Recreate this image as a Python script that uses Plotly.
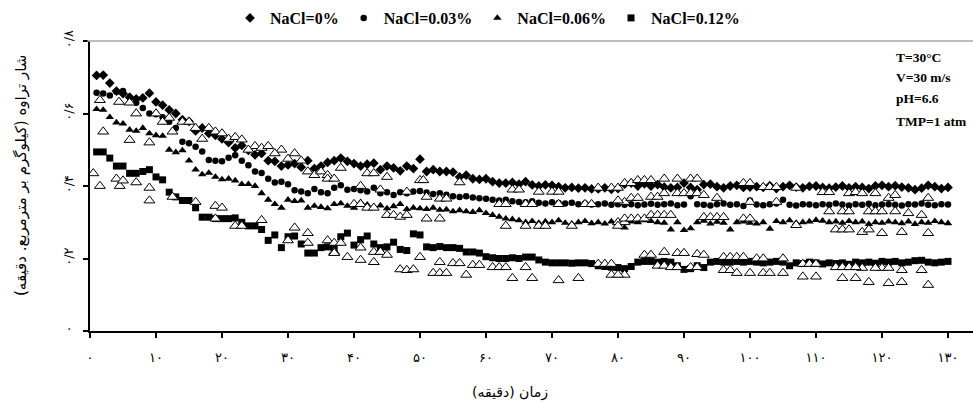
import plotly.graph_objects as go

# ---------------- data ----------------
time_min = list(range(1, 131))

nacl_0 = [
    0.705, 0.706, 0.684, 0.662, 0.655, 0.645, 0.640, 0.643, 0.656, 0.632,
    0.623, 0.610, 0.600, 0.583, 0.578, 0.552, 0.560, 0.545, 0.540, 0.530,
    0.520, 0.505, 0.512, 0.498, 0.486, 0.490, 0.470, 0.468, 0.455, 0.458,
    0.462, 0.452, 0.470, 0.448, 0.455, 0.465, 0.470, 0.477, 0.468, 0.462,
    0.455, 0.460, 0.463, 0.445, 0.455, 0.450, 0.442, 0.455, 0.448, 0.474,
    0.440, 0.445, 0.440, 0.440, 0.438, 0.425, 0.430, 0.420, 0.418, 0.420,
    0.412, 0.408, 0.408, 0.410, 0.405, 0.412, 0.403, 0.400, 0.403, 0.402,
    0.398, 0.395, 0.396, 0.394, 0.395, 0.392, 0.392, 0.395, 0.391, 0.393,
    0.405, 0.408, 0.400, 0.406, 0.400, 0.404, 0.397, 0.395, 0.396, 0.408,
    0.396, 0.390, 0.404, 0.405, 0.398, 0.395, 0.400, 0.402, 0.396, 0.397,
    0.398, 0.396, 0.401, 0.393, 0.398, 0.402, 0.397, 0.395, 0.399, 0.400,
    0.396, 0.394, 0.397, 0.400, 0.395, 0.398, 0.396, 0.393, 0.400, 0.402,
    0.398, 0.401, 0.397, 0.395, 0.390, 0.394, 0.402, 0.398, 0.393, 0.396,
]

nacl_003 = [
    0.657, 0.655, 0.650, 0.660, 0.662, 0.645, 0.630, 0.615, 0.600, 0.598,
    0.590, 0.577, 0.560, 0.522, 0.518, 0.508, 0.495, 0.472, 0.470, 0.468,
    0.478, 0.485, 0.470, 0.457, 0.440, 0.436, 0.420, 0.410, 0.412, 0.405,
    0.388, 0.385, 0.380, 0.392, 0.383, 0.380, 0.395, 0.402, 0.390, 0.392,
    0.388, 0.385, 0.395, 0.380, 0.383, 0.375, 0.383, 0.380, 0.385, 0.386,
    0.382, 0.378, 0.380, 0.376, 0.372, 0.370, 0.372, 0.368, 0.366, 0.365,
    0.362, 0.360, 0.362, 0.358, 0.356, 0.355, 0.358, 0.354, 0.352, 0.355,
    0.353, 0.352, 0.354, 0.350, 0.352, 0.349, 0.350, 0.352, 0.348, 0.350,
    0.348, 0.350, 0.347, 0.349, 0.351, 0.348, 0.350, 0.352, 0.347, 0.349,
    0.372, 0.350, 0.348, 0.346, 0.350, 0.352, 0.348, 0.350, 0.345, 0.360,
    0.349, 0.347, 0.350, 0.352, 0.362, 0.348, 0.346, 0.350, 0.349, 0.347,
    0.350, 0.348, 0.352, 0.349, 0.346, 0.350, 0.348, 0.351, 0.347, 0.349,
    0.350, 0.348, 0.346, 0.350, 0.349, 0.352, 0.348, 0.347, 0.350, 0.349,
]

nacl_006 = [
    0.612, 0.610, 0.590, 0.575, 0.572, 0.555, 0.552, 0.560, 0.545, 0.540,
    0.538, 0.500, 0.493, 0.498, 0.470, 0.445, 0.432, 0.436, 0.425, 0.418,
    0.420, 0.415, 0.405, 0.405, 0.400, 0.380, 0.362, 0.350, 0.340, 0.362,
    0.358, 0.360, 0.340, 0.345, 0.342, 0.338, 0.350, 0.352, 0.345, 0.340,
    0.355, 0.348, 0.342, 0.346, 0.338, 0.344, 0.350, 0.336, 0.340, 0.338,
    0.336, 0.340, 0.334, 0.335, 0.330, 0.333, 0.330, 0.328, 0.333, 0.325,
    0.320, 0.315, 0.310, 0.308, 0.305, 0.300, 0.303, 0.298, 0.302, 0.300,
    0.305, 0.298, 0.296, 0.300, 0.303, 0.297, 0.300, 0.296, 0.302, 0.298,
    0.285, 0.302, 0.300, 0.305, 0.303, 0.300, 0.298, 0.280, 0.300, 0.278,
    0.283, 0.300, 0.304, 0.296, 0.301, 0.298, 0.280, 0.300, 0.302, 0.298,
    0.296, 0.300, 0.282, 0.303, 0.300, 0.305, 0.298, 0.300, 0.302, 0.306,
    0.304, 0.300, 0.302, 0.298, 0.303, 0.300, 0.302, 0.295, 0.300, 0.298,
    0.302, 0.300, 0.297, 0.302, 0.295, 0.300, 0.298, 0.303, 0.300, 0.297,
]

nacl_012 = [
    0.494, 0.494, 0.477, 0.455, 0.455, 0.435, 0.435, 0.440, 0.445, 0.425,
    0.417, 0.383, 0.370, 0.360, 0.360, 0.340, 0.314, 0.314, 0.310, 0.310,
    0.310, 0.312, 0.300, 0.290, 0.290, 0.280, 0.250, 0.265, 0.230, 0.260,
    0.262, 0.240, 0.215, 0.215, 0.230, 0.232, 0.230, 0.260, 0.270, 0.237,
    0.252, 0.262, 0.240, 0.230, 0.232, 0.245, 0.225, 0.222, 0.268, 0.265,
    0.232, 0.230, 0.233, 0.230, 0.230, 0.228, 0.218, 0.218, 0.215, 0.205,
    0.202, 0.200, 0.200, 0.202, 0.200, 0.204, 0.204, 0.196, 0.190, 0.188,
    0.188, 0.188, 0.187, 0.188, 0.188, 0.186, 0.180, 0.178, 0.176, 0.175,
    0.172, 0.178, 0.190, 0.192, 0.192, 0.190, 0.192, 0.190, 0.180, 0.170,
    0.172, 0.180, 0.175, 0.190, 0.192, 0.190, 0.190, 0.192, 0.190, 0.192,
    0.190, 0.188, 0.190, 0.192, 0.190, 0.180, 0.188, 0.186, 0.190, 0.188,
    0.185, 0.188, 0.186, 0.188, 0.184, 0.190, 0.188, 0.190, 0.187, 0.192,
    0.190, 0.192, 0.188, 0.190, 0.194, 0.195, 0.190, 0.188, 0.190, 0.192,
]

# open (white) triangles, not in the legend
open_t = [
    1.5, 4.4, 2, 6, 9, 10, 12, 14, 15, 18, 19, 21, 22, 23, 25, 26, 27, 29, 31, 33, 34, 35, 36,
    6, 7, 11, 12.5, 16, 17, 20, 24, 28, 30, 32,
    0.5, 1.5, 4, 4.5, 5, 7, 9, 9, 12.5, 16, 19, 20, 19, 22, 23, 26, 30, 31, 33, 33, 36, 37,
    36, 37, 38, 41, 42, 43, 44, 45, 48, 50, 50.5, 51, 53, 54, 56, 64, 65, 68, 70, 71, 77, 79, 80, 81,
    40, 41, 42, 43, 45, 46, 47, 48, 51, 53, 62, 63, 63, 66, 67, 66, 68, 69, 71, 73, 75, 76, 80, 81,
    37, 37, 38, 39, 41, 41, 43, 44, 43, 45, 47, 48, 49, 50, 52, 53, 54, 53, 55, 56, 57, 58, 59,
    61, 62, 63, 64, 66, 67, 71, 74, 77, 78, 79, 79, 81,
    81, 82, 83, 84, 85, 87, 89, 91, 92, 80, 82, 83, 85, 86, 87, 89, 90, 91, 92, 93, 95, 99, 100,
    100, 102, 103, 104, 104, 107, 111, 112, 112, 114, 115, 115, 116, 117, 118, 119, 119, 120, 121,
    122, 122, 124, 126, 127,
    80, 81, 82, 83, 84, 85, 86, 87, 88, 93, 94, 95, 96, 99, 100, 107, 113, 114, 115, 117, 118, 120,
    123, 127,
    80, 84, 85, 87, 89, 90, 92, 93, 86, 87, 88, 89, 91, 92, 96, 97, 98, 99, 101, 102, 105, 96, 97,
    98, 100, 102, 103, 105, 108, 109, 110, 108, 110, 113, 114, 115, 117, 118, 120, 121, 116, 119,
    121, 123, 126, 114, 116, 123, 127,
]
open_v = [
    0.637, 0.632, 0.550, 0.527, 0.520, 0.600, 0.588, 0.577, 0.577, 0.560, 0.550, 0.530, 0.535,
    0.528, 0.510, 0.505, 0.510, 0.500, 0.490, 0.440, 0.430, 0.440, 0.430,
    0.630, 0.600, 0.577, 0.550, 0.560, 0.530, 0.545, 0.500, 0.490, 0.475, 0.470,
    0.435, 0.400, 0.420, 0.400, 0.415, 0.410, 0.395, 0.360, 0.370, 0.356, 0.345, 0.340, 0.310,
    0.290, 0.290, 0.306, 0.250, 0.285, 0.270, 0.243, 0.250, 0.218,
    0.420, 0.420, 0.450, 0.400, 0.435, 0.435, 0.390, 0.425, 0.384, 0.416, 0.416, 0.370, 0.365,
    0.365, 0.410, 0.390, 0.390, 0.384, 0.384, 0.384, 0.395, 0.395, 0.395, 0.356,
    0.350, 0.350, 0.340, 0.340, 0.320, 0.320, 0.315, 0.320, 0.310, 0.310, 0.350, 0.350, 0.290,
    0.350, 0.350, 0.290, 0.290, 0.290, 0.350, 0.290, 0.350, 0.350, 0.300, 0.300,
    0.243, 0.215, 0.243, 0.204, 0.230, 0.196, 0.218, 0.218, 0.190, 0.210, 0.170, 0.168, 0.170,
    0.204, 0.160, 0.160, 0.160, 0.190, 0.187, 0.187, 0.155, 0.182, 0.182,
    0.176, 0.176, 0.176, 0.146, 0.176, 0.146, 0.140, 0.146, 0.185, 0.185, 0.185, 0.155, 0.155,
    0.408, 0.408, 0.416, 0.416, 0.416, 0.420, 0.420, 0.420, 0.420, 0.360, 0.367, 0.367, 0.370,
    0.370, 0.380, 0.380, 0.380, 0.380, 0.380, 0.375, 0.367, 0.408, 0.408,
    0.356, 0.397, 0.397, 0.397, 0.356, 0.395, 0.383, 0.383, 0.330, 0.330, 0.330, 0.380, 0.383,
    0.380, 0.330, 0.330, 0.380, 0.330, 0.367,
    0.375, 0.330, 0.325, 0.320, 0.367,
    0.290, 0.310, 0.310, 0.310, 0.310, 0.320, 0.320, 0.320, 0.320, 0.314, 0.314, 0.314, 0.314,
    0.310, 0.310, 0.292, 0.280, 0.280, 0.280, 0.273, 0.280, 0.270,
    0.273, 0.270,
    0.155, 0.210, 0.210, 0.218, 0.215, 0.215, 0.212, 0.210, 0.180, 0.180, 0.176, 0.176, 0.176,
    0.176, 0.204, 0.204, 0.204, 0.204, 0.200, 0.200, 0.200, 0.168, 0.168,
    0.160, 0.160, 0.160, 0.160, 0.160, 0.185, 0.185, 0.185, 0.150, 0.150, 0.176, 0.176, 0.176,
    0.174, 0.135, 0.174, 0.132, 0.176, 0.174,
    0.174, 0.168, 0.168, 0.146, 0.146, 0.135, 0.127,
]

x_ticks = [0, 10, 20, 30, 40, 50, 60, 70, 80, 90, 100, 110, 120, 130]
x_tick_labels = ["۰", "۱۰", "۲۰", "۳۰", "۴۰", "۵۰", "۶۰", "۷۰", "۸۰", "۹۰",
                 "۱۰۰", "۱۱۰", "۱۲۰", "۱۳۰"]
y_ticks = [0, 0.2, 0.4, 0.6, 0.8]
y_tick_labels = ["۰", "۰/۲", "۰/۴", "۰/۶", "۰/۸"]

series_names = ["NaCl=0%", "NaCl=0.03%", "NaCl=0.06%", "NaCl=0.12%"]
conditions = ["T=30°C", "V=30 m/s", "pH=6.6", "TMP=1 atm"]

# ---------------- figure ----------------
W, H = 973, 404
L, R, T, B = 90, 0, 41, 73
plot_w = W - L - R
px_per_min = 6.6
x_max = plot_w / px_per_min

fig = go.Figure()
symbols = ["diamond", "circle", "triangle-up", "square"]
sizes = [7.5, 6.5, 7.5, 7]
for name, vals, sym, sz in zip(series_names, [nacl_0, nacl_003, nacl_006, nacl_012], symbols, sizes):
    fig.add_trace(go.Scatter(
        x=time_min, y=vals, mode="markers", name=name,
        marker=dict(symbol=sym, size=sz, color="black", line=dict(width=0)),
        cliponaxis=False,
    ))

fig.add_trace(go.Scatter(
    x=open_t, y=open_v, mode="markers", showlegend=False,
    marker=dict(symbol="triangle-up", size=9.5, color="white",
                line=dict(color="black", width=1)),
))

serif = "Liberation Serif, Times New Roman, serif"
persian = "DejaVu Sans, Noto Sans, sans-serif"

fig.update_layout(
    width=W, height=H,
    margin=dict(l=L, r=R, t=T, b=B, pad=0),
    paper_bgcolor="white", plot_bgcolor="white",
    showlegend=True,
    legend=dict(
        orientation="h", x=(230 - L) / plot_w, xanchor="left",
        y=(331 - 18) / 290, yanchor="middle",
        font=dict(family=serif, size=16, color="black", weight="bold"),
        bgcolor="rgba(0,0,0,0)", borderwidth=0,
        itemsizing="trace", tracegroupgap=0,
    ),
    xaxis=dict(
        range=[0, x_max], tickmode="array", tickvals=x_ticks, ticktext=x_tick_labels,
        showgrid=False, zeroline=False, showline=True, linecolor="black", linewidth=1.5,
        ticks="outside", ticklen=5, tickwidth=1.5, tickcolor="black",
        tickfont=dict(family=persian, size=13, color="black"),
        ticklabelstandoff=9,
    ),
    yaxis=dict(
        range=[0, 0.8], tickmode="array", tickvals=y_ticks, ticktext=y_tick_labels,
        showgrid=False, zeroline=False, showline=True, linecolor="black", linewidth=2,
        ticks="outside", ticklen=5, tickwidth=1.5, tickcolor="black",
        tickangle=-90,
        tickfont=dict(family=persian, size=13, color="black"),
        ticklabelstandoff=5,
    ),
)

# thin grey top border of the plot area
fig.add_shape(type="line", xref="paper", yref="paper", x0=-0.003, x1=1, y0=1, y1=1,
              line=dict(color="#a8a8a8", width=1.5))

# axis titles
fig.add_annotation(text="زمان (دقیقه)", xref="paper", yref="paper",
                   x=(510 - L) / plot_w, y=(331 - 392) / 290,
                   xanchor="center", yanchor="middle", showarrow=False,
                   font=dict(family=persian, size=14, color="black"))
fig.add_annotation(text="شار تراوه (کیلوگرم بر مترمربع. دقیقه)", xref="paper", yref="paper",
                   x=(21 - L) / plot_w, y=(331 - 176) / 290, textangle=-90,
                   xanchor="center", yanchor="middle", showarrow=False,
                   font=dict(family=persian, size=15, color="black"))

# operating conditions
cond_y_px = [57, 77, 99, 121]
for txt, ypx in zip(conditions, cond_y_px):
    fig.add_annotation(text=txt, xref="paper", yref="paper",
                       x=(894 - L) / plot_w, y=(331 - ypx) / 290,
                       xanchor="left", yanchor="middle", showarrow=False,
                       font=dict(family=serif, size=13.5, color="black", weight="bold"))

fig.write_html("out.html")
